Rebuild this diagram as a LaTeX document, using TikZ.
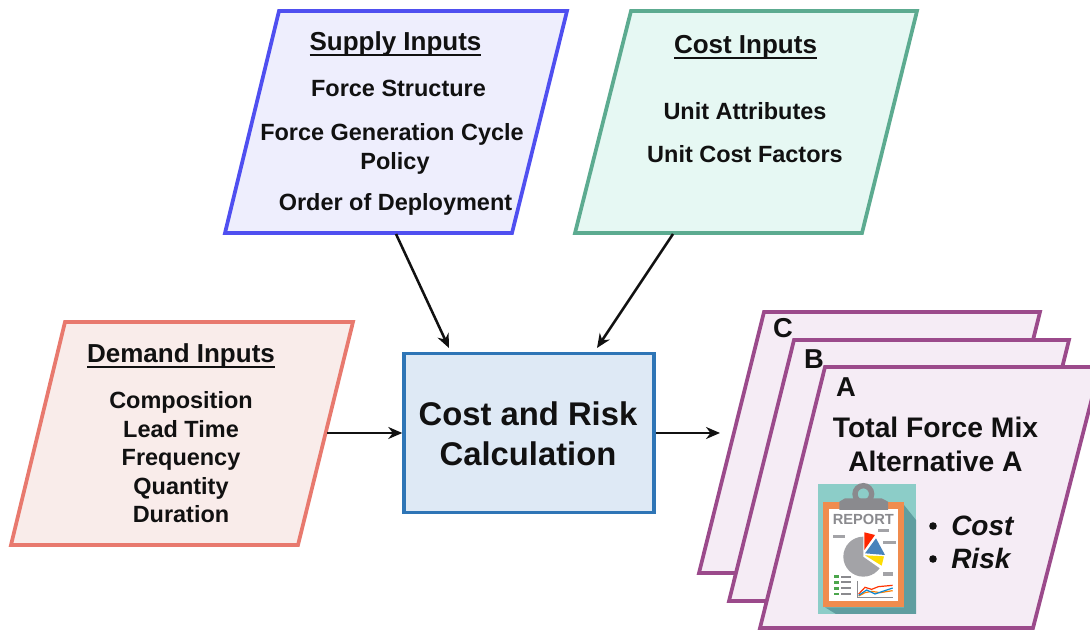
\documentclass[tikz,border=0pt]{standalone}
\usepackage{fontspec}
\setmainfont{Liberation Sans}
\usetikzlibrary{arrows.meta}
\definecolor{ink}{HTML}{111111}
\definecolor{supplyc}{HTML}{4F4FF0}\definecolor{supplyf}{HTML}{EEEEFD}
\definecolor{costc}{HTML}{5CAB90}\definecolor{costf}{HTML}{E6F8F3}
\definecolor{demandc}{HTML}{E8796E}\definecolor{demandf}{HTML}{F9ECEA}
\definecolor{calcc}{HTML}{2E75B6}\definecolor{calcf}{HTML}{DEE9F5}
\definecolor{altc}{HTML}{9B4A8B}\definecolor{altf}{HTML}{F5ECF5}
\definecolor{teal1}{HTML}{8CCDC8}\definecolor{teal2}{HTML}{5F9EA0}
\definecolor{orange1}{HTML}{F08C4E}\definecolor{grey1}{HTML}{8A8A8E}\definecolor{grey2}{HTML}{A3A3A7}
\newcommand\hd[1]{\leavevmode\setbox0\hbox{#1}\rlap{\rule[-4.4pt]{\wd0}{1.4pt}}\box0}
\tikzset{
  x=0.75pt,y=-0.75pt,
  shapebox/.style={line width=2.8pt,line join=miter},
  txt/.style={inner sep=0pt,anchor=base,text=ink,font=\bfseries\fontsize{17.6}{20}\selectfont},
  head/.style={txt,font=\bfseries\fontsize{19.5}{22}\selectfont},
  bigt/.style={txt,font=\bfseries\fontsize{24.6}{28}\selectfont},
  altt/.style={txt,font=\bfseries\fontsize{21.2}{25}\selectfont},
  lett/.style={txt,font=\bfseries\fontsize{20.5}{22}\selectfont},
  itt/.style={txt,anchor=base west,font=\bfseries\itshape\fontsize{21}{24}\selectfont},
  conn/.style={line width=1.9pt,ink,-{Stealth[length=10.5pt,width=9pt]}},
}
\begin{document}
\begin{tikzpicture}
\useasboundingbox (0,0) rectangle (1090,630);
% input shapes
\draw[shapebox,draw=supplyc,fill=supplyf] (279,11)--(567,11)--(512,233)--(225,233)--cycle;
\draw[shapebox,draw=costc,fill=costf] (631,11)--(917,11)--(862,233)--(575,233)--cycle;
\draw[shapebox,draw=demandc,fill=demandf] (65,322)--(353,322)--(298,545)--(11,545)--cycle;
\node[draw=calcc,fill=calcf,line width=2.6pt,minimum width=187.5pt,minimum height=119.5pt,inner sep=0pt] (calc) at (529,433) {};
% stacked outputs
\begin{scope}
\clip (0,0) rectangle (1090,630);
\draw[shapebox,draw=altc,fill=altf] (764,312)--(1040,312)--(975,573)--(699,573)--cycle;
\draw[shapebox,draw=altc,fill=altf] (794,340)--(1069,340)--(1004,601)--(729,601)--cycle;
\draw[shapebox,draw=altc,fill=altf] (825,367)--(1100,367)--(1033,628)--(760,628)--cycle;
\end{scope}
% texts
\node[head] (t1) at (395.5,50.5) {\hd{Supply Inputs}};
\node[txt] (t2) at (398.5,97) {Force Structure};
\node[txt] (t3) at (392,141) {Force Generation Cycle};
\node[txt] (t4) at (395,170) {Policy};
\node[txt] (t5) at (395.5,211) {Order of Deployment};
\node[head] (t6) at (745.5,53.5) {\hd{Cost Inputs}};
\node[txt] (t7) at (745,120) {Unit Attributes};
\node[txt] (t8) at (745,163) {Unit Cost Factors};
\node[head] (t9) at (181,362.5) {\hd{Demand Inputs}};
\node[txt] (t10) at (181,409) {Composition};
\node[txt] (t11) at (181,438) {Lead Time};
\node[txt] (t12) at (181,466) {Frequency};
\node[txt] (t13) at (181,495) {Quantity};
\node[txt] (t14) at (181,523) {Duration};
\node[bigt] (t15) at (528,425.5) {Cost and Risk};
\node[bigt] (t16) at (528,465.5) {Calculation};
\node[lett] (lc) at (783,338) {C};
\node[lett] (lb) at (814,369) {B};
\node[lett] (la) at (846,397) {A};
\node[altt] (t17) at (935.5,438) {Total Force Mix};
\node[altt] (t18) at (935.5,472) {Alternative A};
\node[itt] (t19) at (951,536) {Cost};
\node[itt] (t20) at (951,569) {Risk};
\fill[ink] (933,526) circle (3.8) (933,559) circle (3.8);
% report icon
\begin{scope}[shift={(800,470)},scale=1/3]
\fill[teal1] (53,42) rectangle (348,432);
\fill[teal2] (312,105)--(348,150)--(348,432)--(108,432)--(75,412)--(312,412)--cycle;
\fill[orange1] (68,97) rectangle (312,412);
\fill[white] (87,117) rectangle (293,392);
\draw[grey1,line width=4pt] (190,72) circle (25);
\fill[grey1] (118,120)--(118,95)--(135,85)--(245,85)--(264,95)--(264,120)--cycle;
\node[inner sep=0pt,text=grey1,font=\bfseries\fontsize{11}{12}\selectfont] (rep) at (190,149) {REPORT};
\fill[grey2] (190,260) circle (60);
\fill[white] (190,260)--(190,190)--(265,190)--(265,295)--(240,295)--cycle;
\fill[red!70!orange] (193,240)--(193,187)--(225,195)--cycle;
\fill[cyan!60!blue!70!gray] (195,250)--(228,205)--(255,255)--cycle;
\fill[yellow!80!orange] (195,256)--(252,259)--(245,287)--cycle;
\foreach \yy in {320,337,355,372} {
  \fill[green!50!black!70] (103,\yy-4) rectangle (118,\yy+4);
  \fill[grey1] (122,\yy-3) rectangle (154,\yy+3);
}
\draw[grey1,line width=.6pt] (172,333)--(172,382)--(280,382);
\draw[red!60!orange,line width=.9pt] (176,372)--(195,352)--(215,358)--(235,350)--(278,346);
\draw[orange,line width=.9pt] (176,378)--(195,368)--(215,364)--(240,368)--(278,362);
\draw[cyan!70!blue,line width=.9pt] (176,376)--(200,360)--(225,372)--(278,354);
\foreach \a/\b/\c/\d in {100/196/135/203,235/178/268/186,250/213/288/221,250/306/280/318} {
  \fill[grey2] (\a,\b) rectangle (\c,\d);
}
\end{scope}
% connectors
\coordinate (supplyout) at (396,234);
\coordinate (costout) at (673,234);
\coordinate (demandout) at (327,433);
\coordinate (altin) at (720,433);
\coordinate (calcs) at (449,348);
\coordinate (calcc2) at (597,348);
\draw[conn] (supplyout) -- (calcs);
\draw[conn] (costout) -- (calcc2);
\draw[conn] (demandout) -- (calc.west);
\draw[conn] (calc.east) -- (altin);
\end{tikzpicture}
\end{document}
